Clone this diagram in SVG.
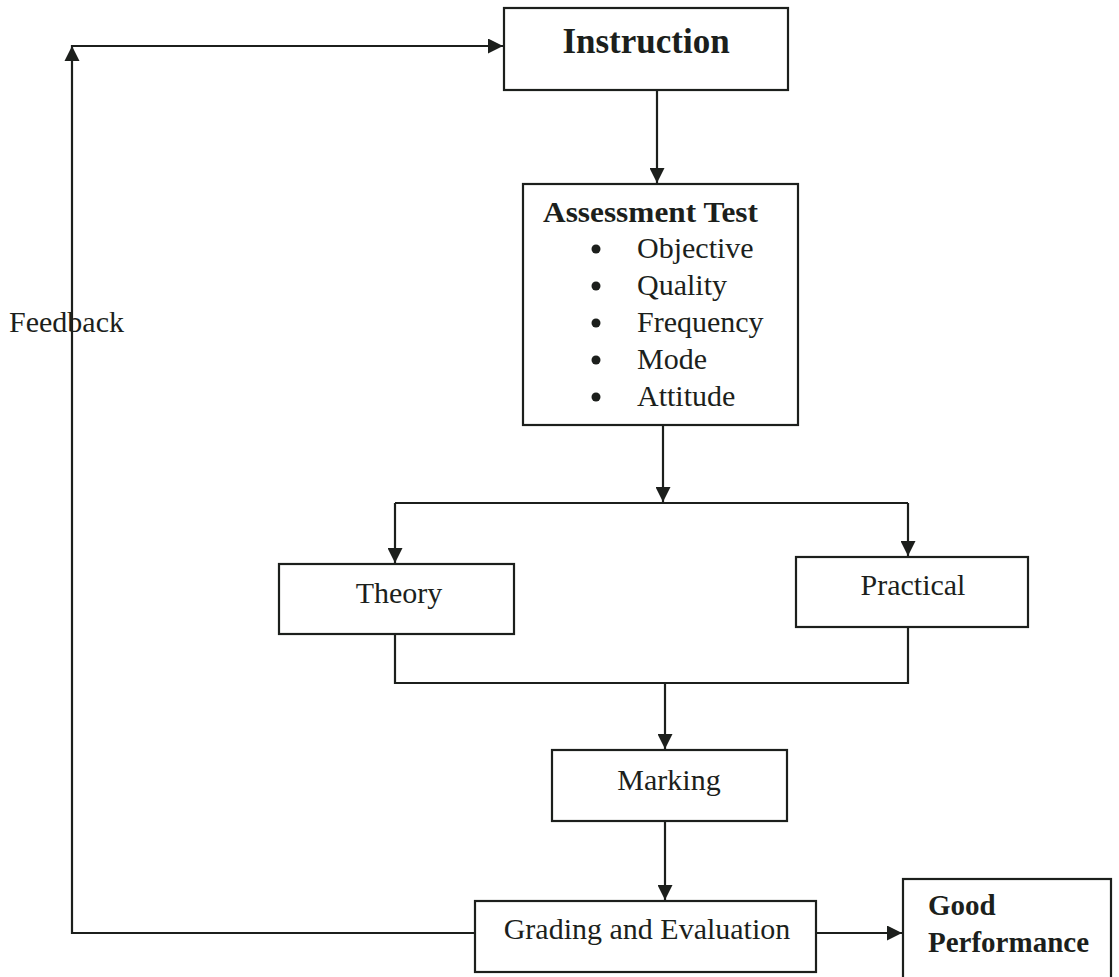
<svg xmlns="http://www.w3.org/2000/svg" width="1119" height="977" viewBox="0 0 1119 977">
<style>
.box{fill:#fff;stroke:#1c1f1c;stroke-width:2.2}
.ln{fill:none;stroke:#1c1f1c;stroke-width:2.2}
.t{font-family:"Liberation Serif","Times New Roman",serif;font-size:30px;fill:#1c1f1c}
.b{font-weight:bold;font-size:29px}
</style>
<defs>
<marker id="ah" viewBox="0 0 15 15" refX="15" refY="7.5" markerWidth="15" markerHeight="15" markerUnits="userSpaceOnUse" orient="auto">
<path d="M0,0 L15,7.5 L0,15 Z" fill="#1c1f1c"/>
</marker>
</defs>
<rect width="1119" height="977" fill="#fff"/>
<g id="connectors">
<path class="ln" d="M657,90 V183" marker-end="url(#ah)"/>
<path class="ln" d="M663,425 V502" marker-end="url(#ah)"/>
<path class="ln" d="M395,503 H908"/>
<path class="ln" d="M395,503 V563" marker-end="url(#ah)"/>
<path class="ln" d="M908,503 V556" marker-end="url(#ah)"/>
<path class="ln" d="M395,634 V683 H908 V627"/>
<path class="ln" d="M665,683 V749" marker-end="url(#ah)"/>
<path class="ln" d="M665,821 V900" marker-end="url(#ah)"/>
<path class="ln" d="M816,933 H902" marker-end="url(#ah)"/>
<path class="ln" d="M475,933 H72 V46 H503" marker-end="url(#ah)"/>
<path d="M64.5,61 L72,46 L79.5,61 Z" fill="#1c1f1c"/>
<text class="t" x="9" y="332">Feedback</text>
</g>
<g id="instruction">
<rect class="box" x="504" y="8" width="284" height="82"/>
<text class="t b" x="646" y="53" text-anchor="middle" style="font-size:35px">Instruction</text>
</g>
<g id="assessment">
<rect class="box" x="523" y="184" width="275" height="241"/>
<text class="t b" x="543" y="222" textLength="215" lengthAdjust="spacingAndGlyphs">Assessment Test</text>
<g fill="#1c1f1c">
<circle cx="596" cy="249" r="4.5"/>
<circle cx="596" cy="286" r="4.5"/>
<circle cx="596" cy="323" r="4.5"/>
<circle cx="596" cy="360" r="4.5"/>
<circle cx="596" cy="397" r="4.5"/>
</g>
<text class="t" x="637" y="258">Objective</text>
<text class="t" x="637" y="295">Quality</text>
<text class="t" x="637" y="332">Frequency</text>
<text class="t" x="637" y="369">Mode</text>
<text class="t" x="637" y="406">Attitude</text>
</g>
<g id="theory">
<rect class="box" x="279" y="564" width="235" height="70"/>
<text class="t" x="399" y="603" text-anchor="middle">Theory</text>
</g>
<g id="practical">
<rect class="box" x="796" y="557" width="232" height="70"/>
<text class="t" x="913" y="595" text-anchor="middle">Practical</text>
</g>
<g id="marking">
<rect class="box" x="552" y="750" width="235" height="71"/>
<text class="t" x="669" y="790" text-anchor="middle">Marking</text>
</g>
<g id="grading">
<rect class="box" x="475" y="901" width="341" height="71"/>
<text class="t" x="647" y="939" text-anchor="middle">Grading and Evaluation</text>
</g>
<g id="good-performance">
<rect class="box" x="903" y="879" width="208" height="110"/>
<text class="t b" x="928" y="915">Good</text>
<text class="t b" x="928" y="952">Performance</text>
</g>
</svg>
